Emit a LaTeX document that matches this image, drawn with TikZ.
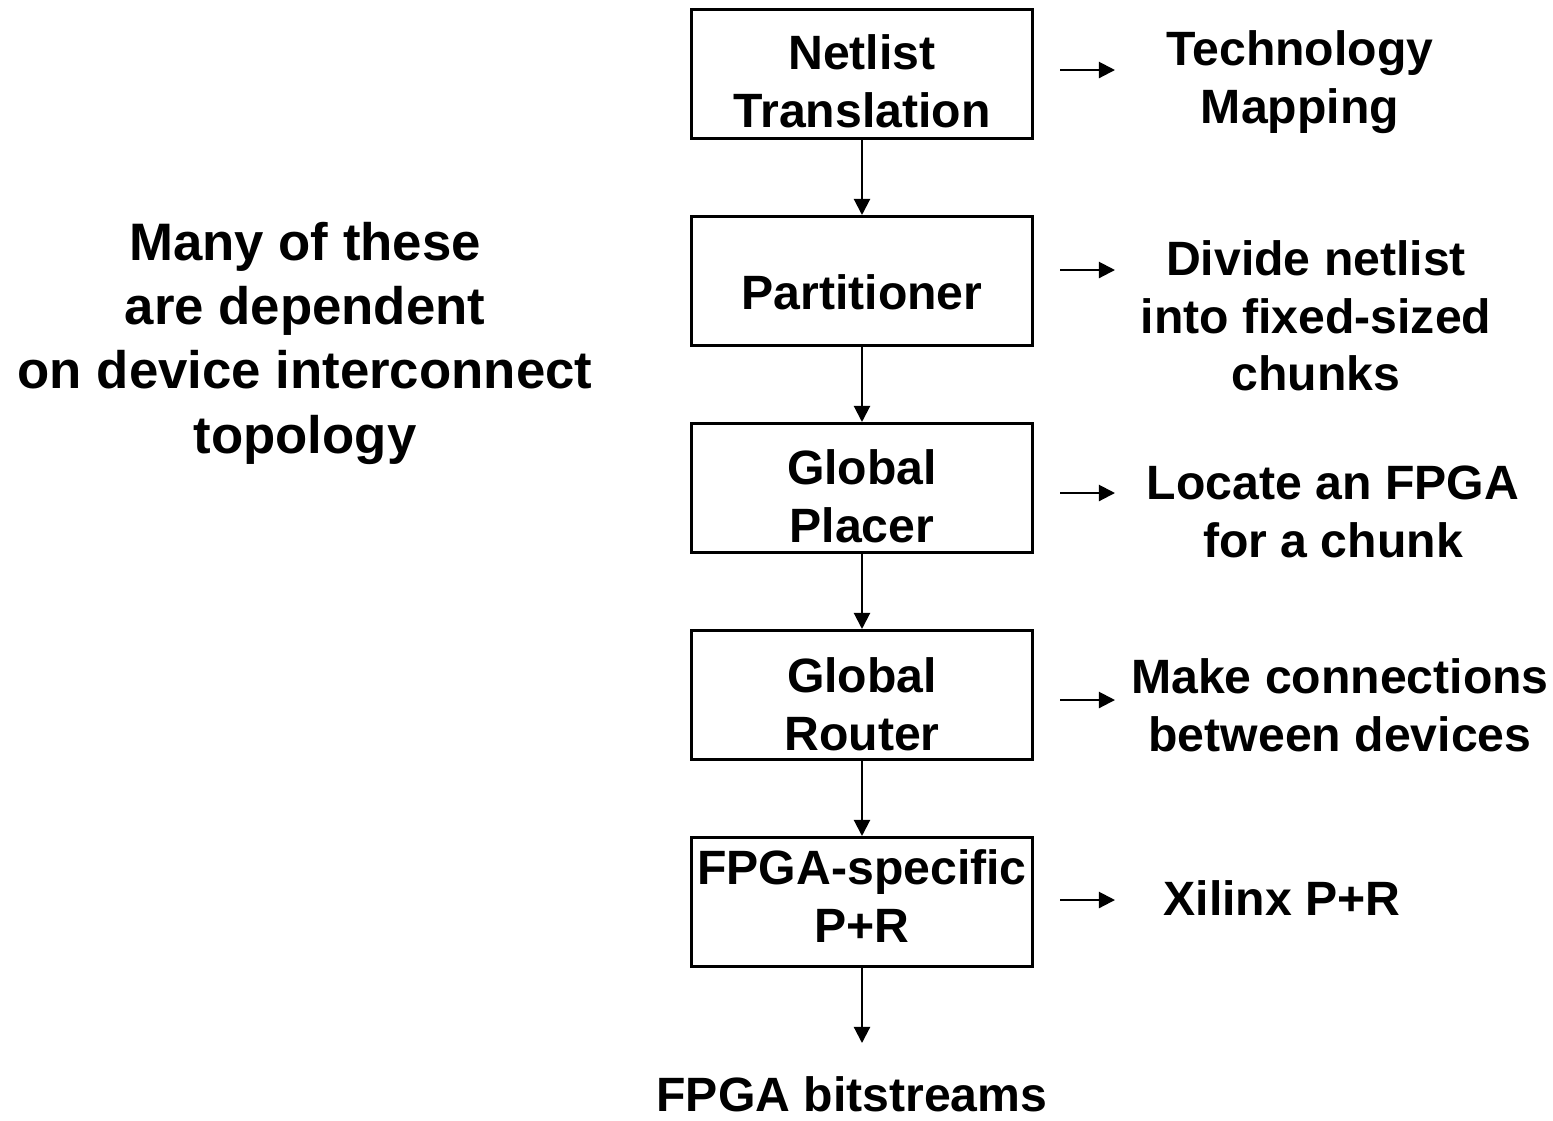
\documentclass[tikz,border=0pt]{standalone}
\usepackage{fontspec}
\setmainfont{Liberation Sans}
\usetikzlibrary{arrows.meta,positioning}
\tikzset{
  stage/.style={
    draw=black, line width=0.85pt,
    minimum width=3.4cm, minimum height=1.29cm, inner sep=0pt
  },
  note/.style={align=center, inner sep=0pt,
    font=\fontsize{13.7}{16.4}\selectfont\bfseries},
  bignote/.style={note, font=\fontsize{15}{18.3}\selectfont\bfseries},
  arr/.style={-{Triangle[length=4.6pt,width=4.6pt]}, draw=black, line width=0.6pt}
}
\begin{document}
\begin{tikzpicture}[x=0.01cm,y=-0.01cm]
  \useasboundingbox (0,0) rectangle (1553,1120);
  % flow stages
  \node[stage] (nt) at (862,74)  {};
  \node[stage] (pt) at (862,281) {};
  \node[stage] (gp) at (862,488) {};
  \node[stage] (gr) at (862,695) {};
  \node[stage] (fs) at (862,902) {};
  \node[note] (ntt) at (862,81)  {Netlist\\Translation};
  \node[note] (ptt) at (862,292) {Partitioner};
  \node[note] (gpt) at (862,496) {Global\\Placer};
  \node[note] (grt) at (862,704) {Global\\Router};
  \node[note] (fst) at (862,896) {FPGA-specific\\P+R};
  \node[note] (bs) at (852,1094) {FPGA bitstreams};
  \coordinate (bsend) at (862,1043);
  \draw[arr] (nt) -- (pt);
  \draw[arr] (pt) -- (gp);
  \draw[arr] (gp) -- (gr);
  \draw[arr] (gr) -- (fs);
  \draw[arr] (fs) -- (bsend);
  % side notes
  \node[note] (tm) at (1300,82)  {Technology\\Mapping};
  \node[note] (dn) at (1316,316) {Divide netlist\\into fixed-sized\\chunks};
  \node[note] (lf) at (1333,512) {Locate an FPGA\\for a chunk};
  \node[note] (mc) at (1340,705) {Make connections\\between devices};
  \node[note] (xp) at (1282,898) {Xilinx P+R};
  \node[bignote] (dep) at (305,343) {Many of these\\are dependent\\on device interconnect\\topology};
  \foreach \s/\y in {nt/70,pt/270,gp/493,gr/700,fs/900}{
    \coordinate (a\s) at (1060,\y);
    \coordinate (b\s) at (1115,\y);
    \draw[arr] (a\s) -- (b\s);
  }
\end{tikzpicture}
\end{document}
